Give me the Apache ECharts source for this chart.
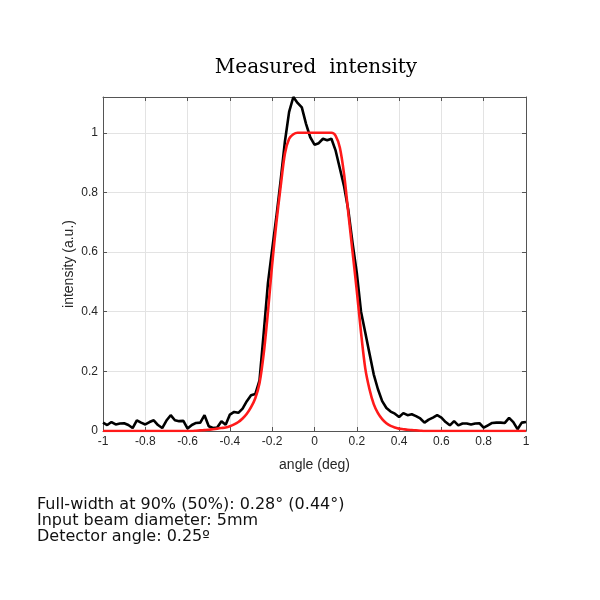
<!DOCTYPE html>
<html><head><meta charset="utf-8">
<script src="https://cdn.jsdelivr.net/npm/echarts@6/dist/echarts.min.js"></script>
<style>html,body{margin:0;padding:0;background:#fff}#c{width:600px;height:600px}</style>
</head><body><div id="c"></div>
<script>
const angles = [-1.00,-0.98,-0.96,-0.94,-0.92,-0.90,-0.88,-0.86,-0.84,-0.82,-0.80,-0.78,-0.76,-0.74,-0.72,-0.70,-0.68,-0.66,-0.64,-0.62,-0.60,-0.58,-0.56,-0.54,-0.52,-0.50,-0.48,-0.46,-0.44,-0.42,-0.40,-0.38,-0.36,-0.34,-0.32,-0.30,-0.28,-0.26,-0.24,-0.22,-0.20,-0.18,-0.16,-0.14,-0.12,-0.10,-0.08,-0.06,-0.04,-0.02,0.00,0.02,0.04,0.06,0.08,0.10,0.12,0.14,0.16,0.18,0.20,0.22,0.24,0.26,0.28,0.30,0.32,0.34,0.36,0.38,0.40,0.42,0.44,0.46,0.48,0.50,0.52,0.54,0.56,0.58,0.60,0.62,0.64,0.66,0.68,0.70,0.72,0.74,0.76,0.78,0.80,0.82,0.84,0.86,0.88,0.90,0.92,0.94,0.96,0.98,1.00];
const measured = [0.028,0.020,0.030,0.022,0.025,0.026,0.020,0.010,0.036,0.028,0.022,0.030,0.036,0.020,0.010,0.035,0.053,0.036,0.033,0.034,0.008,0.020,0.027,0.028,0.053,0.016,0.010,0.012,0.033,0.021,0.055,0.064,0.061,0.075,0.100,0.120,0.124,0.170,0.330,0.497,0.610,0.720,0.840,0.970,1.070,1.120,1.100,1.085,1.030,0.985,0.960,0.965,0.980,0.975,0.980,0.940,0.880,0.820,0.740,0.630,0.530,0.400,0.330,0.260,0.190,0.140,0.100,0.077,0.065,0.058,0.047,0.060,0.053,0.056,0.050,0.042,0.028,0.038,0.045,0.053,0.045,0.030,0.019,0.033,0.019,0.025,0.025,0.022,0.025,0.026,0.011,0.019,0.027,0.028,0.028,0.027,0.044,0.030,0.006,0.028,0.030];
const fitted = [0,0,0,0,0,0,0,0,0,0,0,0,0,0,0,0,0,0,0,0,0,0,0.001,0.002,0.003,0.004,0.006,0.008,0.010,0.012,0.016,0.022,0.030,0.042,0.058,0.080,0.110,0.160,0.260,0.400,0.560,0.700,0.820,0.930,0.980,0.995,1.0,1.0,1.0,1.0,1.0,1.0,1.0,1.0,1.0,0.990,0.950,0.860,0.730,0.600,0.470,0.330,0.210,0.140,0.090,0.060,0.040,0.026,0.017,0.012,0.008,0.006,0.004,0.003,0.002,0.001,0,0,0,0,0,0,0,0,0,0,0,0,0,0,0,0,0,0,0,0,0,0,0,0,0];
const xTicks = [-1,-0.8,-0.6,-0.4,-0.2,0,0.2,0.4,0.6,0.8,1];
const yTicks = [0,0.2,0.4,0.6,0.8,1];
const titleText = 'Measured  intensity';
const notes = ['Full-width at 90% (50%): 0.28° (0.44°)','Input beam diameter: 5mm','Detector angle: 0.25º'];

const fmt = v => { const r = Math.round(v*10)/10; return Math.abs(r - v) < 1e-6 ? String(r) : ''; };
const isTick = (arr, v) => arr.some(t => Math.abs(t - v) < 1e-6);
const chart = echarts.init(document.getElementById('c'), null, {renderer:'canvas'});
const axisColor = '#555';
const tickCfg = {show:true, inside:true, length:4, lineStyle:{color:axisColor}};
chart.setOption({
  animation:false,
  backgroundColor:'#fff',
  title:{text:titleText, left:311, top:53, textAlign:'center',
    textStyle:{fontFamily:'DejaVu Serif', fontWeight:'normal', fontSize:20, color:'#000'}},
  grid:{left:103, top:97, width:423, height:334},
  xAxis:[{type:'value', min:-1, max:1, interval:0.2, position:'bottom',
    axisLine:{show:true, onZero:false, lineStyle:{color:axisColor}},
    axisTick:tickCfg,
    axisLabel:{formatter:v => isTick(xTicks, v) ? fmt(v) : '', color:'#262626', fontFamily:'Liberation Sans', fontSize:12, margin:5},
    splitLine:{show:true, lineStyle:{color:'#e3e3e3'}},
    name:'angle (deg)', nameLocation:'middle', nameGap:27, nameMoveOverlap:false,
    nameTextStyle:{color:'#262626', fontFamily:'Liberation Sans', fontSize:14}},
   {type:'value', min:-1, max:1, interval:0.2, position:'top',
    axisLine:{show:true, onZero:false, lineStyle:{color:axisColor}},
    axisTick:tickCfg, axisLabel:{show:false}, splitLine:{show:false}}],
  yAxis:[{type:'value', min:0, max:1.12, interval:0.2, position:'left',
    axisLine:{show:true, onZero:false, lineStyle:{color:axisColor}},
    axisTick:tickCfg,
    axisLabel:{formatter:v => isTick(yTicks, v) ? fmt(v) : '', color:'#262626', fontFamily:'Liberation Sans', fontSize:12, margin:5},
    splitLine:{show:true, lineStyle:{color:'#e3e3e3'}},
    name:'intensity (a.u.)', nameLocation:'middle', nameGap:27, nameRotate:90, nameMoveOverlap:false,
    nameTextStyle:{color:'#262626', fontFamily:'Liberation Sans', fontSize:14}},
   {type:'value', min:0, max:1.12, interval:0.2, position:'right',
    axisLine:{show:true, onZero:false, lineStyle:{color:axisColor}},
    axisTick:tickCfg, axisLabel:{show:false}, splitLine:{show:false}}],
  series:[
    {type:'line', name:'measured', data:angles.map((a,i)=>[a, measured[i]]), showSymbol:false,
     lineStyle:{color:'#000', width:2.6}, z:3},
    {type:'line', name:'fit', data:angles.map((a,i)=>[a, fitted[i]]), showSymbol:false, smooth:0.3,
     lineStyle:{color:'#ff1a1a', width:2.6}, z:4}
  ],
  graphic: notes.map((t,i)=>({type:'text', left:37, top:497 + i*16,
    style:{text:t, fill:'#111', font:'16px "DejaVu Sans"'}}))
});
</script></body></html>
